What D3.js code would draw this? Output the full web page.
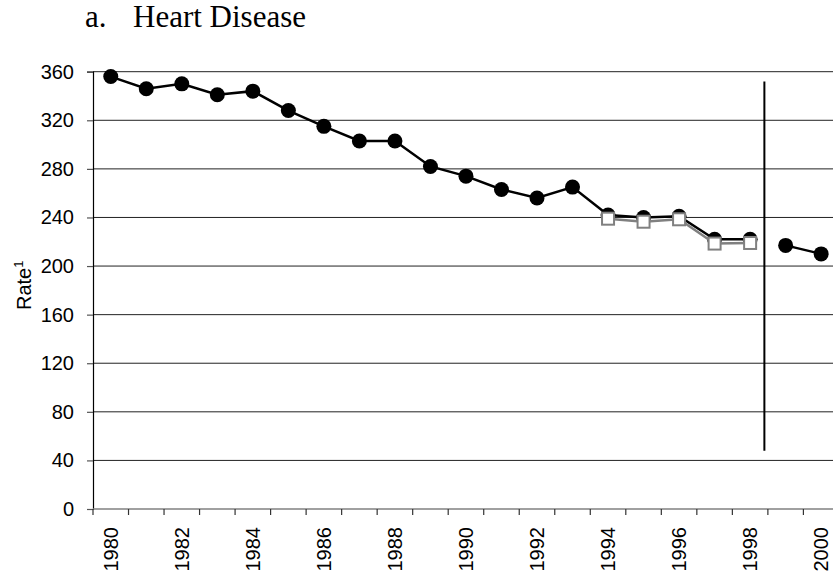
<!DOCTYPE html>
<html>
<head>
<meta charset="utf-8">
<script src="https://cdn.jsdelivr.net/npm/d3@7/dist/d3.min.js"></script>
<style>
	body { margin: 0; background: #fff; }
	svg { display: block; }
	.tick-text { font-family: "Liberation Sans", Arial, sans-serif; font-size: 20px; fill: #000; }
	.title { font-family: "Liberation Serif", "Times New Roman", serif; font-size: 31px; fill: #000; }
</style>
</head>
<body>
<div id="plot"></div>
<script>

// data
var years = [ 1980, 1981, 1982, 1983, 1984, 1985, 1986, 1987, 1988, 1989, 1990,
		1991, 1992, 1993, 1994, 1995, 1996, 1997, 1998, 1999, 2000 ];
var rates = [ 356, 346, 350, 341, 344, 328, 315, 303, 303, 282, 274, 263, 256,
		265, 242, 240, 241, 222, 222, 217, 210 ];
var modYears = [ 1994, 1995, 1996, 1997, 1998 ];
var modRates = [ 239, 236.5, 238.5, 218.5, 219 ];
var yTicks = [ 0, 40, 80, 120, 160, 200, 240, 280, 320, 360 ];
var xLabels = [ 1980, 1982, 1984, 1986, 1988, 1990, 1992, 1994, 1996, 1998, 2000 ];
var breakAfter = 1998; // series is split here
var breakRange = [ 48, 352 ];

var options = {
	width : 833,
	height : 581,
	left : 93,
	step : 35.52,
	top : 71.7,
	bottom : 509
};

var svg = d3.select("#plot").append("svg").attr("width", options.width)
		.attr("height", options.height);

var x = d3.scaleBand().domain(years).range(
		[ options.left, options.left + years.length * options.step ])
		.padding(0);
var y = d3.scaleLinear().domain([ 0, 360 ]).range(
		[ options.bottom, options.top ]);
var xc = function(d) {
	return x(d) + x.bandwidth() / 2;
};
var right = x.range()[1];

// title
svg.append("text").attr("class", "title").attr("x", 85).attr("y", 27).text("a.");
svg.append("text").attr("class", "title").attr("x", 133).attr("y", 27).text(
		"Heart Disease");

// gridlines
svg.append("g").selectAll("line").data(yTicks.filter(function(v) {
	return v > 0;
})).enter().append("line").attr("x1", options.left).attr("x2", right).attr(
		"y1", function(d) {
			return y(d);
		}).attr("y2", function(d) {
	return y(d);
}).attr("stroke", "#222").attr("stroke-width", 1);

// y axis
var yAxis = svg.append("g").attr("transform",
		"translate(" + options.left + ",0)").call(
		d3.axisLeft(y).tickValues(yTicks).tickSize(6).tickPadding(13));
yAxis.select(".domain").attr("stroke", "#000").attr("stroke-width", 1.2);
yAxis.selectAll(".tick line").attr("stroke", "#555").attr("stroke-width", 1.2);
yAxis.selectAll("text").attr("class", "tick-text").attr("font-size", null)
		.attr("font-family", null);

// x axis (ticks at category boundaries)
var xAxis = svg.append("g");
xAxis.append("line").attr("x1", options.left).attr("x2", right).attr("y1",
		y(0)).attr("y2", y(0)).attr("stroke", "#808080").attr("stroke-width", 1.6);
xAxis.selectAll(".xt").data(years).enter().append("line").attr("class", "xt")
		.attr("x1", function(d) {
			return x(d);
		}).attr("x2", function(d) {
			return x(d);
		}).attr("y1", y(0)).attr("y2", y(0) + 6).attr("stroke", "#333")
		.attr("stroke-width", 1.2);
xAxis.selectAll(".tick-text").data(xLabels).enter().append("text").attr(
		"class", "tick-text").attr("text-anchor", "end").attr(
		"transform",
		function(d) {
			return "translate(" + (xc(d) + 7) + "," + (y(0) + 18)
					+ ") rotate(-90)";
		}).text(function(d) {
	return d;
});

// y title
var yt = svg.append("text").attr("class", "tick-text").attr("transform",
		"translate(31,310) rotate(-90)");
yt.append("tspan").text("Rate");
yt.append("tspan").attr("dy", -8).attr("font-size", 13).text("1");

// break line
svg.append("line").attr("x1", x(breakAfter + 1) - 3.5).attr("x2",
		x(breakAfter + 1) - 3.5).attr("y1", y(breakRange[0])).attr("y2",
		y(breakRange[1])).attr("stroke", "#000").attr("stroke-width", 2);

// main series, split at the break
var pts = years.map(function(d, i) {
	return {
		year : d,
		value : rates[i]
	};
});
var line = d3.line().x(function(d) {
	return xc(d.year);
}).y(function(d) {
	return y(d.value);
});
var segs = [ pts.filter(function(d) {
	return d.year <= breakAfter;
}), pts.filter(function(d) {
	return d.year > breakAfter;
}) ];
svg.append("g").selectAll("path").data(segs).enter().append("path").attr("d",
		line).attr("fill", "none").attr("stroke", "#000").attr("stroke-width",
		2.5);
svg.append("g").selectAll("circle").data(pts).enter().append("circle").attr(
		"cx", function(d) {
			return xc(d.year);
		}).attr("cy", function(d) {
	return y(d.value);
}).attr("r", 7.5).attr("fill", "#000");

// comparability-modified series
var mpts = modYears.map(function(d, i) {
	return {
		year : d,
		value : modRates[i]
	};
});
svg.append("path").datum(mpts).attr("d", line).attr("fill", "none").attr(
		"stroke", "#808080").attr("stroke-width", 2.5);
svg.append("g").selectAll("rect").data(mpts).enter().append("rect").attr("x",
		function(d) {
			return xc(d.year) - 6;
		}).attr("y", function(d) {
	return y(d.value) - 6;
}).attr("width", 12).attr("height", 12).attr("fill", "#fff").attr("stroke",
		"#808080").attr("stroke-width", 2);

</script>
</body>
</html>
